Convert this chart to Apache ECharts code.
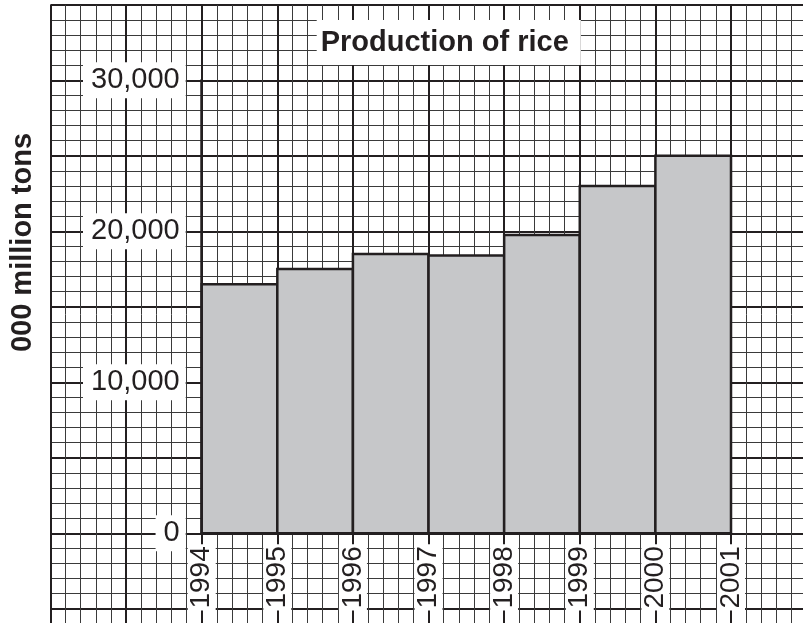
<!DOCTYPE html>
<html>
<head>
<meta charset="utf-8">
<script src="https://cdn.jsdelivr.net/npm/echarts@6/dist/echarts.min.js"></script>
<style>html,body{margin:0;padding:0;background:#fff;}#chart{width:803px;height:623px;}</style>
</head>
<body>
<div id="chart"></div>
<script>
// ---- data ----
const yearEdges = [1994, 1995, 1996, 1997, 1998, 1999, 2000, 2001];
const production = [16500, 17500, 18500, 18400, 19750, 23000, 25000];
const xTickLabels = ['1994', '1995', '1996', '1997', '1998', '1999', '2000', '2001'];
const yTickValues = [0, 10000, 20000, 30000];
const yTickLabels = ['0', '10,000', '20,000', '30,000'];
const titleText = 'Production of rice';
const yAxisTitle = '000 million tons';

const INK = '#231f20';
const FONT = "'Liberation Sans', Arial, Helvetica, sans-serif";

const barData = production.map((v, i) => [yearEdges[i], yearEdges[i + 1], v]);

const chart = echarts.init(document.getElementById('chart'), null, {renderer: 'canvas'});
chart.setOption({
  animation: false,
  backgroundColor: '#fff',
  title: {
    text: titleText,
    left: 316.7,
    top: 20,
    padding: [8, 12, 8, 4],
    backgroundColor: '#fff',
    textStyle: {fontFamily: FONT, fontSize: 29, fontWeight: 'bold', color: INK}
  },
  graphic: [{
    type: 'text',
    x: 23,
    y: 242.5,
    rotation: Math.PI / 2,
    z: 10,
    style: {
      text: yAxisTitle,
      font: "bold 29px 'Liberation Sans', Arial, sans-serif",
      fill: INK,
      align: 'center',
      verticalAlign: 'middle'
    }
  }],
  grid: [
    {left: 50.5, top: 4.8, width: 756.1, height: 679.5, containLabel: false, outerBoundsMode: 'none'},
    {left: 201.7, right: 72, top: 80.3, bottom: 89.7, containLabel: false, outerBoundsMode: 'none'}
  ],
  xAxis: [
    {
      gridIndex: 0, type: 'value', min: 1992, max: 2002, interval: 1, z: 0,
      axisLine: {show: false}, axisTick: {show: false}, axisLabel: {show: false},
      splitLine: {show: true, showMinLine: true, showMaxLine: true, lineStyle: {color: INK, width: 2}},
      minorTick: {show: false, splitNumber: 5},
      minorSplitLine: {show: true, lineStyle: {color: '#3a3a3a', width: 1}}
    },
    {
      gridIndex: 1, type: 'value', min: 1994, max: 2001, interval: 1, z: 5,
      axisLine: {show: true, onZero: false, lineStyle: {color: INK, width: 2.5}},
      axisTick: {show: false},
      splitLine: {show: false},
      axisLabel: {
        show: true, rotate: 90, margin: 11,
        fontFamily: FONT, fontSize: 28, color: INK,
        backgroundColor: '#fff', padding: [0, 2, 0, 2],
        formatter: function (v) { const i = yearEdges.indexOf(v); return i >= 0 ? xTickLabels[i] : ''; }
      }
    }
  ],
  yAxis: [
    {
      gridIndex: 0, type: 'value', min: -10000, max: 35000, interval: 5000, z: 0,
      axisLine: {show: false}, axisTick: {show: false}, axisLabel: {show: false},
      splitLine: {show: true, showMinLine: true, showMaxLine: true, lineStyle: {color: INK, width: 2}},
      minorTick: {show: false, splitNumber: 5},
      minorSplitLine: {show: true, lineStyle: {color: '#3a3a3a', width: 1}}
    },
    {
      gridIndex: 1, type: 'value', min: 0, max: 30000, interval: 10000, z: 5,
      axisLine: {show: true, onZero: false, lineStyle: {color: INK, width: 2.5}},
      axisTick: {show: false},
      splitLine: {show: false},
      axisLabel: {
        show: true, margin: 16,
        fontFamily: FONT, fontSize: 29, color: INK,
        backgroundColor: '#fff', padding: [4, 6, 3, 8],
        formatter: function (v) { const i = yTickValues.indexOf(v); return i >= 0 ? yTickLabels[i] : ''; }
      }
    }
  ],
  series: [{
    type: 'custom',
    xAxisIndex: 1,
    yAxisIndex: 1,
    z: 3,
    data: barData,
    encode: {x: [0, 1], y: 2},
    renderItem: function (params, api) {
      const p0 = api.coord([api.value(0), 0]);
      const p1 = api.coord([api.value(1), api.value(2)]);
      return {
        type: 'rect',
        shape: {x: p0[0], y: p1[1], width: p1[0] - p0[0], height: p0[1] - p1[1]},
        style: {fill: '#c6c7c9', stroke: INK, lineWidth: 2.5}
      };
    }
  }]
});
</script>
</body>
</html>
